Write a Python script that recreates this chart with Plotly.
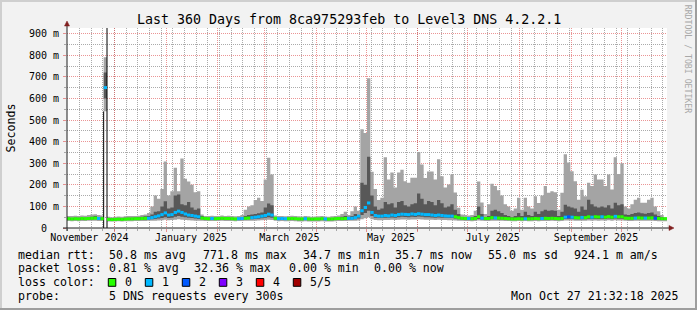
import datetime as dt
import plotly.graph_objects as go

# ---------------- data ----------------
T0 = dt.datetime(2024, 11, 1, 21, 32, 18)   # start of the 360-day window
BIN_START_DAYS = 0.7
BIN_DAYS = 2.0
Y_MAX = 926  # ms

# 5 sorted pings per bin (ms): min, 2nd, median, 4th, max
ping_max = [56,55,57,56,58,57,60,62,64,60,58,
            790,
            52,50,52,53,52,54,55,55,56,57,60,62,70,
            100,150,135,180,308,150,170,279,170,322,228,215,200,165,170,62,
            56,55,57,55,56,58,55,57,56,54,56,60,
            85,100,105,130,140,125,225,325,248,58,
            55,56,54,55,57,55,54,53,55,54,52,53,54,55,53,52,54,55,58,
            65,75,60,78,100,80,
            457,440,693,260,180,130,140,327,225,257,187,257,270,217,210,233,233,352,294,232,
            262,262,225,318,240,187,201,248,164,94,
            62,60,58,60,80,215,118,65,110,
            205,195,175,150,110,100,
            80,90,140,85,140,100,90,147,116,150,194,163,170,165,85,163,
            341,303,263,217,131,177,147,210,194,248,225,225,194,248,178,327,250,300,100,90,
            110,131,140,117,117,131,140,100,77,60,50]
ping_hi = [47,46,48,47,48,47,50,52,55,50,48,
           720,
           45,44,45,46,45,47,48,48,49,50,52,54,55,
           62,75,78,100,124,90,95,150,155,110,105,120,95,85,90,55,
           48,47,48,47,48,49,47,48,48,46,48,50,
           55,60,62,65,68,72,95,113,105,50,
           47,48,46,47,48,47,46,45,47,46,45,45,46,47,45,45,46,47,50,
           52,55,52,55,65,60,
           210,200,330,150,100,85,90,120,110,115,95,120,125,105,100,110,115,160,135,110,
           125,120,105,130,115,95,100,110,85,65,
           50,50,48,50,55,100,65,50,55,
           80,85,78,70,60,55,
           50,55,70,55,75,60,55,75,65,78,85,80,82,80,55,75,
           108,100,95,90,75,100,85,131,110,100,95,100,95,105,90,117,105,110,62,60,
           65,70,72,68,66,70,72,62,55,50,46]
median_rtt = [43,42,43,42,44,43,44,45,46,44,43,
              650,
              40,39,40,41,40,41,42,42,43,43,44,45,45,
              48,52,56,62,70,60,62,72,78,72,65,60,58,55,52,46,
              44,43,44,43,44,45,44,44,43,42,43,44,
              45,46,48,50,52,55,58,64,60,45,
              43,44,43,43,44,43,42,42,43,42,41,42,42,43,42,41,42,43,44,
              43,44,45,45,48,55,
              80,95,116,72,58,55,55,58,56,60,58,62,64,63,62,65,63,66,64,62,
              62,60,58,60,58,56,55,55,52,48,
              45,44,44,43,44,52,46,44,44,
              48,47,46,45,44,43,
              42,42,43,42,43,42,43,44,43,44,45,44,45,44,43,44,
              50,52,50,48,47,49,48,52,50,52,51,52,50,53,50,54,52,52,46,45,
              45,46,47,46,46,46,47,45,44,43,43]
ping_lo = [38,37,38,37,38,38,39,39,40,38,38,
           600,
           36,35,36,36,36,37,37,37,38,38,38,39,39,
           40,42,44,46,50,46,48,52,55,52,50,48,46,44,42,40,
           38,38,38,38,38,39,38,38,38,37,38,38,
           39,40,41,42,43,45,47,50,48,39,
           37,38,37,37,38,37,36,36,37,36,36,36,36,37,36,36,36,37,38,
           38,38,39,39,41,44,
           60,70,80,55,48,46,46,48,47,49,48,50,52,51,50,52,51,53,52,50,
           50,49,48,49,48,47,46,46,44,41,
           39,38,38,37,38,42,39,38,38,
           41,40,39,39,38,37,
           37,37,38,37,38,37,37,38,37,38,39,38,39,38,37,38,
           42,43,42,41,40,41,40,43,42,43,42,43,42,44,42,44,43,43,40,39,
           39,40,40,40,40,40,40,39,38,37,37]
ping_min = [32,31,32,31,32,32,33,33,33,32,32,
            540,
            30,30,30,31,30,31,31,31,32,32,32,32,33,
            33,34,35,36,38,36,37,38,40,38,37,36,35,34,34,33,
            32,32,32,32,32,33,32,32,32,31,32,32,
            33,33,34,34,35,36,37,38,37,33,
            31,32,31,31,32,31,30,30,31,30,30,30,30,31,30,30,30,31,32,
            32,32,33,33,34,35,
            40,45,50,40,37,36,36,37,37,38,37,38,39,39,38,39,39,40,39,38,
            38,38,37,38,37,37,36,36,35,34,
            33,32,32,31,32,35,33,32,32,
            34,33,33,33,32,32,
            31,31,32,31,32,31,31,32,31,32,32,32,33,32,31,32,
            35,35,35,34,33,34,33,35,34,35,34,35,34,36,34,36,35,35,33,32,
            32,33,33,33,33,33,33,32,31,31,31]
loss_count = [0,0,0,0,0,0,0,0,0,1,0,
              1,
              0,0,0,0,0,0,0,0,0,0,0,0,1,
              1,1,1,1,1,1,1,1,1,1,1,1,1,1,1,0,
              0,0,1,0,0,0,0,0,0,0,1,1,
              0,0,1,1,1,1,1,1,1,0,
              1,1,1,0,0,0,0,0,1,0,0,0,0,0,1,0,0,0,0,
              0,0,1,1,1,1,
              1,1,1,1,1,1,1,1,1,1,1,1,1,1,1,1,1,1,1,1,
              1,1,1,1,1,1,1,1,0,0,
              0,0,1,0,0,0,1,0,0,
              0,1,0,0,0,0,
              0,0,0,0,1,0,0,0,0,1,0,0,0,0,0,0,
              1,2,1,0,0,1,0,0,1,0,0,1,0,0,0,1,0,0,0,0,
              0,1,0,0,1,0,0,2,0,0,0]

loss_levels = [0, 1, 2, 3, 4, 5]
loss_labels = ["0", "1", "2", "3", "4", "5/5"]
loss_colors = ["#26ff00", "#00b8ff", "#0059ff", "#7e00ff", "#ff0000", "#a00000"]

y_tick_vals = [0, 100, 200, 300, 400, 500, 600, 700, 800, 900]
y_tick_text = ["0\u00a0\u00a0", "100 m", "200 m", "300 m", "400 m", "500 m",
               "600 m", "700 m", "800 m", "900 m"]
y_minor_vals = [50, 150, 250, 350, 450, 550, 650, 750, 850]
x_label_dates = ["2024-11-16", "2025-01-16", "2025-03-16", "2025-05-16", "2025-07-16", "2025-09-16"]
x_label_text = ["November 2024", "January 2025", "March 2025", "May 2025", "July 2025", "September 2025"]
month_starts = ["2024-12-01", "2025-01-01", "2025-02-01", "2025-03-01", "2025-04-01", "2025-05-01",
                "2025-06-01", "2025-07-01", "2025-08-01", "2025-09-01", "2025-10-01"]

title_text = "Last 360 Days from 8ca975293feb to Level3 DNS 4.2.2.1"
legend_rows = [
    [("median rtt:", 16), ("50.8 ms avg", 107.3), ("771.8 ms max", 200.7), ("34.7 ms min", 301),
     ("35.7 ms now", 393.3), ("55.0 ms sd", 485.7), ("924.1 m am/s", 572.3)],
    [("packet loss:", 16), ("0.81 % avg", 107.3), ("32.36 % max", 192.3), ("0.00 % min", 286.7),
     ("0.00 % now", 372.3)],
    [("loss color:", 16)],
    [("probe:", 16), ("5 DNS requests every 300s", 107.3)],
]
timestamp_text = "Mon Oct 27 21:32:18 2025"

# ---------------- geometry helpers ----------------
W, H = 697, 310
L, R, T, B = 67, 30, 28, 82
PW, PH = W - L - R, H - T - B


def pxx(px):
    return (px - L) / PW


def pxy(py):
    return (H - B - py) / PH


MONO = "DejaVu Sans Mono"
GRID_MINOR = "rgba(143,143,143,0.75)"
GRID_MAJOR = "rgba(222,79,79,0.6)"

n = len(median_rtt)
edges = [T0 + dt.timedelta(days=BIN_START_DAYS + BIN_DAYS * i) for i in range(n + 1)]


def stepy(vals):
    return list(vals) + [vals[-1]]


fig = go.Figure()
# outer smoke: min..max
fig.add_trace(go.Scatter(x=edges, y=stepy(ping_min), mode="lines",
                         line=dict(width=0, shape="hv"), hoverinfo="skip"))
fig.add_trace(go.Scatter(x=edges, y=stepy(ping_max), mode="lines",
                         line=dict(width=0, shape="hv"), fill="tonexty",
                         fillcolor="#a4a4a4", hoverinfo="skip"))
# inner smoke
fig.add_trace(go.Scatter(x=edges, y=stepy(ping_lo), mode="lines",
                         line=dict(width=0, shape="hv"), hoverinfo="skip"))
fig.add_trace(go.Scatter(x=edges, y=stepy(ping_hi), mode="lines",
                         line=dict(width=0, shape="hv"), fill="tonexty",
                         fillcolor="#585858", hoverinfo="skip"))

# spike borders (black)
k = median_rtt.index(max(median_rtt))
fig.add_trace(go.Scatter(x=[edges[k], edges[k], None, edges[k + 1], edges[k + 1]],
                         y=[0, ping_min[k], None, 0, Y_MAX], mode="lines",
                         line=dict(color="black", width=1), hoverinfo="skip"))

# median bars coloured by loss
for lvl, col in zip(loss_levels, loss_colors):
    xs, ys = [], []
    for i in range(n):
        if loss_count[i] == lvl:
            xs += [edges[i], edges[i + 1], None]
            ys += [median_rtt[i], median_rtt[i], None]
    if xs:
        fig.add_trace(go.Scatter(x=xs, y=ys, mode="lines", connectgaps=False,
                                 line=dict(color=col, width=3), hoverinfo="skip"))

# dummy trace for label axis
fig.add_trace(go.Scatter(x=[edges[0]], y=[None], xaxis="x2", mode="lines", hoverinfo="skip"))

fig.update_layout(
    width=W, height=H, margin=dict(l=L, r=R, t=T, b=B, pad=0),
    paper_bgcolor="#f2f2f2", plot_bgcolor="#ffffff", showlegend=False,
    xaxis=dict(type="date", range=[edges[0], edges[-1]], tickmode="array",
               tickvals=month_starts, showticklabels=False,
               ticks="outside", ticklen=3, tickcolor=GRID_MAJOR,
               showgrid=True, gridcolor=GRID_MAJOR, griddash="1px,1px", gridwidth=1,
               zeroline=False, showline=False, layer="above traces",
               minor=dict(tickmode="array",
                          tickvals=[dt.date(2024, 11, 3) + dt.timedelta(days=7 * w) for w in range(52)],
                          showgrid=True, gridcolor=GRID_MINOR, griddash="1px,1px",
                          ticks="outside", ticklen=2, tickcolor=GRID_MINOR)),
    xaxis2=dict(type="date", range=[edges[0], edges[-1]], overlaying="x", anchor="y",
                side="bottom", tickmode="array", tickvals=x_label_dates, ticktext=x_label_text,
                showgrid=False, ticks="", zeroline=False, showline=False,
                tickfont=dict(family=MONO, size=10, color="black"), ticklabelstandoff=2),
    yaxis=dict(range=[0, Y_MAX], tickmode="array", tickvals=y_tick_vals, ticktext=y_tick_text,
               ticks="outside", ticklen=3, tickcolor=GRID_MAJOR,
               showgrid=True, gridcolor=GRID_MAJOR, griddash="1px,1px", gridwidth=1,
               zeroline=False, showline=False, layer="above traces",
               tickfont=dict(family=MONO, size=10, color="black"), ticklabelstandoff=2,
               minor=dict(tickmode="array", tickvals=y_minor_vals, showgrid=True,
                          gridcolor=GRID_MINOR, griddash="1px,1px",
                          ticks="outside", ticklen=2, tickcolor=GRID_MINOR)),
)

shapes = []
# frame (3D look)
shapes.append(dict(type="line", xref="paper", yref="paper", x0=pxx(0), x1=pxx(W), y0=pxy(1), y1=pxy(1),
                   line=dict(color="#cfcfcf", width=2)))
shapes.append(dict(type="line", xref="paper", yref="paper", x0=pxx(1), x1=pxx(1), y0=pxy(0), y1=pxy(H),
                   line=dict(color="#cfcfcf", width=2)))
shapes.append(dict(type="line", xref="paper", yref="paper", x0=pxx(0), x1=pxx(W), y0=pxy(H - 1), y1=pxy(H - 1),
                   line=dict(color="#9e9e9e", width=2)))
shapes.append(dict(type="line", xref="paper", yref="paper", x0=pxx(W - 1), x1=pxx(W - 1), y0=pxy(0), y1=pxy(H),
                   line=dict(color="#9e9e9e", width=2)))
# axes
shapes.append(dict(type="line", xref="paper", yref="paper", x0=pxx(63), x1=pxx(669), y0=0, y1=0,
                   line=dict(color="#1f1f1f", width=1), layer="above"))
shapes.append(dict(type="line", xref="paper", yref="paper", x0=0, x1=0, y0=pxy(231), y1=pxy(26),
                   line=dict(color="#1f1f1f", width=1), layer="above"))
# arrows
shapes.append(dict(type="path", xref="paper", yref="paper",
                   path=f"M {pxx(669)},{pxy(225.5)} L {pxx(674)},{pxy(228)} L {pxx(669)},{pxy(230.5)} Z",
                   fillcolor="#801f1f", line=dict(color="#801f1f", width=0.5), layer="above"))
shapes.append(dict(type="path", xref="paper", yref="paper",
                   path=f"M {pxx(64.5)},{pxy(26)} L {pxx(67)},{pxy(21)} L {pxx(69.5)},{pxy(26)} Z",
                   fillcolor="#801f1f", line=dict(color="#801f1f", width=0.5), layer="above"))
# loss colour boxes
for j, (lab, col) in enumerate(zip(loss_labels, loss_colors)):
    bx = 108.3 + 37 * j
    shapes.append(dict(type="rect", xref="paper", yref="paper", x0=pxx(bx), x1=pxx(bx + 7.5),
                       y0=pxy(286.3), y1=pxy(278.5), fillcolor=col, line=dict(color="black", width=1)))
fig.update_layout(shapes=shapes)

ann = []
ann.append(dict(text=title_text, x=pxx(348.5), y=pxy(19.3), xref="paper", yref="paper",
                xanchor="center", yanchor="middle", showarrow=False,
                font=dict(family=MONO, size=13.3, color="black")))
ann.append(dict(text="Seconds", x=pxx(10.5), y=pxy(128), xref="paper", yref="paper",
                xanchor="center", yanchor="middle", showarrow=False, textangle=-90,
                font=dict(family=MONO, size=11.6, color="black")))
ann.append(dict(text="RRDTOOL / TOBI OETIKER", x=pxx(688.3), y=pxy(59), xref="paper", yref="paper",
                xanchor="center", yanchor="middle", showarrow=False, textangle=90,
                font=dict(family=MONO, size=8.2, color="#a8a8a8")))
row_y = [255, 268.3, 282.3, 296]
for row, ry in zip(legend_rows, row_y):
    for txt, x in row:
        ann.append(dict(text=txt, x=pxx(x), y=pxy(ry), xref="paper", yref="paper",
                        xanchor="left", yanchor="middle", showarrow=False,
                        font=dict(family=MONO, size=11.6, color="black")))
for j, lab in enumerate(loss_labels):
    ann.append(dict(text=lab, x=pxx(108.3 + 37 * j + 15), y=pxy(282.3), xref="paper", yref="paper",
                    xanchor="left", yanchor="middle", showarrow=False,
                    font=dict(family=MONO, size=11.6, color="black")))
ann.append(dict(text=timestamp_text, x=pxx(680.7), y=pxy(296), xref="paper", yref="paper",
                xanchor="right", yanchor="middle", showarrow=False,
                font=dict(family=MONO, size=11.6, color="black")))
fig.update_layout(annotations=ann)

fig.write_html("out.html")
